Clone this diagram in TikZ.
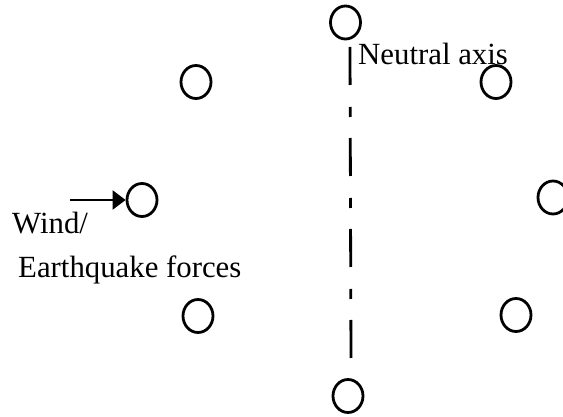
\documentclass[tikz,border=0pt]{standalone}
\usepackage{fontspec}
\setmainfont{Liberation Serif}
\usetikzlibrary{shapes.geometric,arrows.meta}
\begin{document}
\begin{tikzpicture}[x=1pt,y=-1pt,
  bar/.style={draw=black,ellipse,line width=2.8pt,minimum width=30pt,minimum height=33pt,inner sep=0pt},
  lbl/.style={anchor=base west,inner sep=0pt,font=\fontsize{30.8}{36}\selectfont},
  axisline/.style={line width=2.8pt,dash pattern=on 38pt off 22pt on 10pt off 21pt},
  force/.style={line width=2.5pt,-{Triangle[length=13pt,width=19pt]}}]
\useasboundingbox (0,0) rectangle (563,417);
\node[bar] (top) at (345.5,22.5) {};
\node[bar] (tl) at (196,82) {};
\node[bar] (tr) at (496,82) {};
\node[bar] (ml) at (142,200) {};
\node[bar] (mr) at (553,197.5) {};
\node[bar] (bl) at (198,316) {};
\node[bar] (br) at (516,315) {};
\node[bar] (bot) at (348,396) {};
\coordinate (naTop) at (350,47);
\coordinate (naBot) at (351,363);
\draw[axisline] (naTop) -- (naBot);
\node[lbl] (na) at (358,65) {Neutral axis};
\coordinate (fstart) at (70,200);
\draw[force] (fstart) -- (ml.west);
\node[lbl] (wind) at (12,234) {Wind/};
\node[lbl] (eq) at (18,277) {Earthquake forces};
\end{tikzpicture}
\end{document}
